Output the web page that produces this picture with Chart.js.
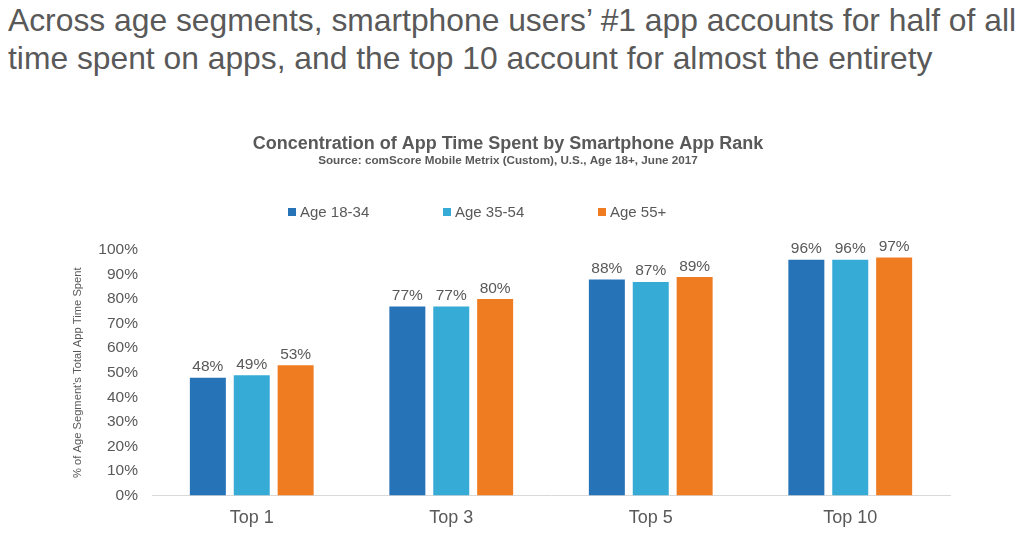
<!DOCTYPE html>
<html>
<head>
<meta charset="utf-8">
<script src="https://cdn.jsdelivr.net/npm/chart.js@4.4.1/dist/chart.umd.min.js"></script>
<style>
  html, body { margin: 0; padding: 0; background: #fff; width: 1024px; height: 538px; overflow: hidden; }
  #heading {
    position: absolute; left: 8px; top: 1px; width: 1016px; white-space: nowrap;
    font-family: "Liberation Sans", Arial, sans-serif; font-size: 31.8px; line-height: 38px;
    color: #595959;
  }
  #wrap { position: absolute; left: 0; top: 122px; width: 1024px; height: 416px; }
</style>
</head>
<body>
<div id="heading">Across age segments, smartphone users’ #1 app accounts for half of all<br>time spent on apps, and the top 10 account for almost the entirety</div>
<div id="wrap"><canvas id="myChart" width="1024" height="416"></canvas></div>
<script>
// categories and series (percent of total app time)
const ranks = ['Top 1', 'Top 3', 'Top 5', 'Top 10'];
const age1834 = [48, 77, 88, 96];
const age3554 = [49, 77, 87, 96];
const age55 = [53, 80, 89, 97];
const seriesNames = ['Age 18-34', 'Age 35-54', 'Age 55+'];

const grey = '#595959';
const FONT = '"Liberation Sans", Arial, sans-serif';

// % value above each bar + the legend row (drawn by hand for the wide spacing)
const barLabels = {
    id: 'barLabels',
    afterDatasetsDraw(chart) {
        const ctx = chart.ctx;
        ctx.save();
        ctx.font = '15.5px ' + FONT;
        ctx.fillStyle = grey;
        ctx.textAlign = 'center';
        ctx.textBaseline = 'bottom';
        chart.data.datasets.forEach((ds, i) => {
            chart.getDatasetMeta(i).data.forEach((bar, j) => {
                ctx.fillText(ds.data[j] + '%', bar.x, bar.y - 3);
            });
        });

        // legend
        ctx.font = '15px ' + FONT;
        ctx.textAlign = 'left';
        ctx.textBaseline = 'middle';
        const legendY = 90;
        chart.data.datasets.forEach((ds, i) => {
            const x = 288 + i * 155;
            ctx.fillStyle = ds.backgroundColor;
            ctx.fillRect(x, legendY - 4, 8, 8);
            ctx.fillStyle = grey;
            ctx.fillText(ds.label, x + 12, legendY + 1);
        });
        ctx.restore();
    }
};

const ctx = document.getElementById('myChart');
const myChart = new Chart(ctx, {
    type: 'bar',
    data: {
        labels: ranks,
        datasets: [{
            label: seriesNames[0],
            data: age1834,
            backgroundColor: '#2773B8'
        }, {
            label: seriesNames[1],
            data: age3554,
            backgroundColor: '#36ABD6'
        }, {
            label: seriesNames[2],
            data: age55,
            backgroundColor: '#F07C22'
        }]
    },
    options: {
        responsive: false,
        animation: false,
        categoryPercentage: 0.66,
        barPercentage: 0.82,
        layout: { padding: { left: 66, right: 74, top: 0, bottom: 5 } },
        scales: {
            x: {
                grid: { display: false },
                border: { color: '#d9d9d9' },
                ticks: {
                    color: grey,
                    padding: 4,
                    font: { family: FONT, size: 18 }
                }
            },
            y: {
                min: 0,
                max: 100,
                afterFit: s => { s.width = 86; },
                grid: { display: false },
                border: { display: false },
                title: {
                    display: true,
                    text: '% of Age Segment\'s Total App Time Spent',
                    color: grey,
                    font: { family: FONT, size: 11.2 },
                    padding: 5
                },
                ticks: {
                    stepSize: 10,
                    color: grey,
                    padding: 6,
                    font: { family: FONT, size: 15.5 },
                    callback: v => v + '%'
                }
            }
        },
        plugins: {
            title: {
                display: true,
                text: 'Concentration of App Time Spent by Smartphone App Rank',
                color: grey,
                font: { family: FONT, size: 18, weight: 'bold', lineHeight: 1 },
                padding: { top: 13, bottom: 0 }
            },
            subtitle: {
                display: true,
                text: 'Source: comScore Mobile Metrix (Custom), U.S., Age 18+, June 2017',
                color: grey,
                font: { family: FONT, size: 11.7, weight: 'bold' },
                padding: { top: 1, bottom: 82 }
            },
            legend: { display: false },
            tooltip: { enabled: false }
        }
    },
    plugins: [barLabels]
});
</script>
</body>
</html>
